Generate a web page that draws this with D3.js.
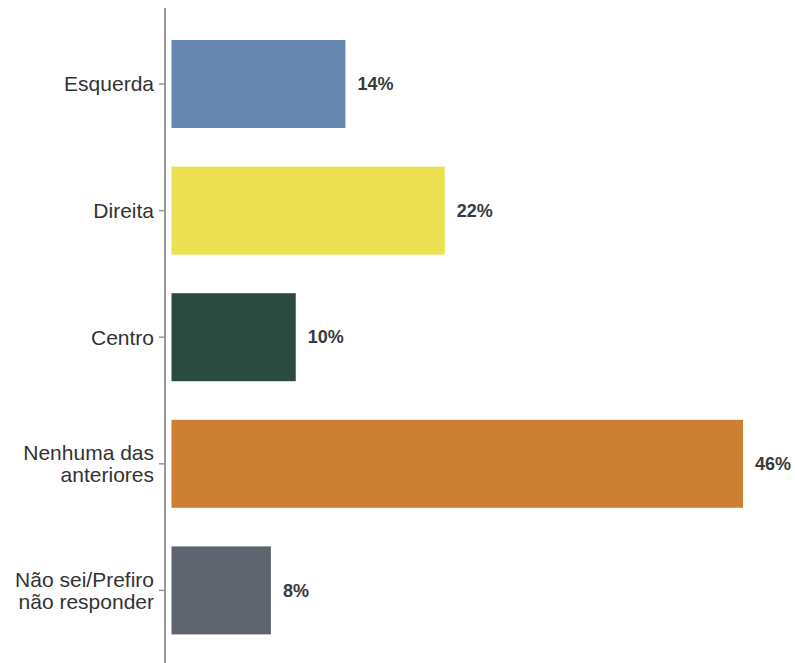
<!DOCTYPE html>
<html>
<head>
<meta charset="utf-8">
<script src="https://cdn.jsdelivr.net/npm/d3@7"></script>
<style>
  body { margin: 0; background: #fff; }
  .cat { font-family: "Liberation Sans", Arial, sans-serif; font-size: 21px; fill: #333; }
  .val { font-family: "Liberation Sans", Arial, sans-serif; font-size: 18px; font-weight: bold; fill: #3a3a3a; }
</style>
</head>
<body>
<div id="chart"></div>
<script>
// data
var categories = ['Esquerda', 'Direita', 'Centro', 'Nenhuma das anteriores', 'Não sei/Prefiro não responder'];
var labelLines = [['Esquerda'], ['Direita'], ['Centro'], ['Nenhuma das', 'anteriores'], ['Não sei/Prefiro', 'não responder']];
var values = [14, 22, 10, 46, 8];
var colors = ['#6688b0', '#ebe052', '#2b4a40', '#cc8034', '#5e646e'];

var width = 795,
    height = 663,
    margin = { left: 171.5, right: 52, top: 20.7, bottom: 9.3 };

var chartWidth = width - margin.left - margin.right;
var chartHeight = height - margin.top - margin.bottom;

var svg = d3.select('#chart').append('svg')
    .attr('width', width)
    .attr('height', height);

var xScale = d3.scaleLinear().domain([0, 46]).range([0, 571.5]);
var yScale = d3.scaleBand().domain(categories).range([0, chartHeight]).paddingInner(0.305).paddingOuter(0.1525);

var g = svg.append('g')
    .attr('transform', 'translate(' + margin.left + ',' + margin.top + ')');

// bars
g.selectAll('rect.bar')
    .data(categories)
    .enter().append('rect')
    .attr('class', 'bar')
    .attr('x', 0)
    .attr('y', function (d) { return yScale(d); })
    .attr('width', function (d, i) { return xScale(values[i]); })
    .attr('height', yScale.bandwidth())
    .attr('fill', function (d, i) { return colors[i]; });

// value labels
g.selectAll('text.val')
    .data(categories)
    .enter().append('text')
    .attr('class', 'val')
    .attr('x', function (d, i) { return xScale(values[i]) + 12; })
    .attr('y', function (d) { return yScale(d) + yScale.bandwidth() / 2; })
    .attr('dy', '0.35em')
    .text(function (d, i) { return values[i] + '%'; });

// y axis
var axisX = -6.5;
svg.append('line')
    .attr('x1', margin.left + axisX).attr('x2', margin.left + axisX)
    .attr('y1', 8).attr('y2', height)
    .attr('stroke', '#999').attr('stroke-width', 2);

var ticks = g.selectAll('g.tick')
    .data(categories)
    .enter().append('g')
    .attr('class', 'tick')
    .attr('transform', function (d) { return 'translate(' + axisX + ',' + (yScale(d) + yScale.bandwidth() / 2) + ')'; });

ticks.append('line')
    .attr('x1', -6).attr('x2', 0)
    .attr('stroke', '#999').attr('stroke-width', 1.5);

ticks.append('text')
    .attr('class', 'cat')
    .attr('text-anchor', 'end')
    .attr('x', -11)
    .each(function (d, i) {
        var lines = labelLines[i];
        var t = d3.select(this);
        var lh = 22.3;
        var start = -(lines.length - 1) * lh / 2;
        lines.forEach(function (l, j) {
            t.append('tspan')
                .attr('x', -11)
                .attr('y', start + j * lh)
                .attr('dy', '0.35em')
                .text(l);
        });
    });
</script>
</body>
</html>
